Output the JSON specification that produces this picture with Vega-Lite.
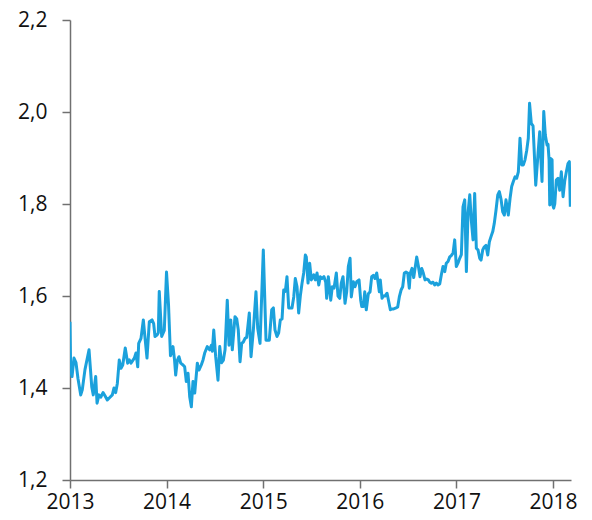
{
  "$schema": "https://vega.github.io/schema/vega-lite/v6.json",
  "autosize": {"type": "none"},
  "padding": {"left": 70, "top": 20, "right": 21, "bottom": 40},
  "width": 501,
  "height": 460,
  "config": {
    "view": {"stroke": null},
    "axis": {"grid": false, "domainColor": "#707070", "tickColor": "#707070", "domainWidth": 1.5, "tickWidth": 1.5, "tickSize": 8, "labelFont": "Open Sans", "labelFontSize": 21, "labelColor": "#111111", "title": null, "labelFlush": false, "labelOverlap": false}
  },
  "data": {"values": [
    {"t":2013.000,"v":1.544},{"t":2013.007,"v":1.44},{"t":2013.021,"v":1.425},{"t":2013.041,"v":1.465},{"t":2013.062,"v":1.455},{"t":2013.083,"v":1.42},{"t":2013.111,"v":1.385},{"t":2013.127,"v":1.396},{"t":2013.155,"v":1.44},{"t":2013.197,"v":1.483},{"t":2013.225,"v":1.403},{"t":2013.241,"v":1.385},{"t":2013.266,"v":1.425},{"t":2013.280,"v":1.367},{"t":2013.300,"v":1.385},{"t":2013.318,"v":1.38},{"t":2013.342,"v":1.39},{"t":2013.362,"v":1.383},{"t":2013.386,"v":1.374},{"t":2013.414,"v":1.38},{"t":2013.438,"v":1.385},{"t":2013.455,"v":1.40},{"t":2013.473,"v":1.39},{"t":2013.490,"v":1.41},{"t":2013.510,"v":1.461},{"t":2013.528,"v":1.443},{"t":2013.546,"v":1.45},{"t":2013.572,"v":1.487},{"t":2013.597,"v":1.454},{"t":2013.614,"v":1.461},{"t":2013.631,"v":1.454},{"t":2013.666,"v":1.465},{"t":2013.683,"v":1.476},{"t":2013.701,"v":1.446},{"t":2013.711,"v":1.497},{"t":2013.735,"v":1.508},{"t":2013.759,"v":1.548},{"t":2013.776,"v":1.51},{"t":2013.797,"v":1.465},{"t":2013.821,"v":1.544},{"t":2013.849,"v":1.548},{"t":2013.866,"v":1.54},{"t":2013.880,"v":1.512},{"t":2013.901,"v":1.515},{"t":2013.914,"v":1.52},{"t":2013.924,"v":1.61},{"t":2013.949,"v":1.512},{"t":2013.976,"v":1.525},{"t":2013.999,"v":1.652},{"t":2014.020,"v":1.58},{"t":2014.040,"v":1.47},{"t":2014.066,"v":1.49},{"t":2014.082,"v":1.461},{"t":2014.094,"v":1.428},{"t":2014.111,"v":1.46},{"t":2014.128,"v":1.468},{"t":2014.146,"v":1.454},{"t":2014.170,"v":1.45},{"t":2014.187,"v":1.446},{"t":2014.204,"v":1.414},{"t":2014.222,"v":1.432},{"t":2014.239,"v":1.381},{"t":2014.256,"v":1.359},{"t":2014.273,"v":1.414},{"t":2014.291,"v":1.389},{"t":2014.318,"v":1.454},{"t":2014.335,"v":1.439},{"t":2014.359,"v":1.45},{"t":2014.377,"v":1.461},{"t":2014.394,"v":1.476},{"t":2014.421,"v":1.49},{"t":2014.446,"v":1.483},{"t":2014.463,"v":1.493},{"t":2014.473,"v":1.48},{"t":2014.488,"v":1.526},{"t":2014.508,"v":1.468},{"t":2014.532,"v":1.417},{"t":2014.550,"v":1.49},{"t":2014.568,"v":1.455},{"t":2014.587,"v":1.46},{"t":2014.605,"v":1.483},{"t":2014.628,"v":1.591},{"t":2014.646,"v":1.493},{"t":2014.664,"v":1.548},{"t":2014.680,"v":1.483},{"t":2014.708,"v":1.555},{"t":2014.726,"v":1.55},{"t":2014.742,"v":1.526},{"t":2014.760,"v":1.457},{"t":2014.777,"v":1.497},{"t":2014.794,"v":1.50},{"t":2014.812,"v":1.508},{"t":2014.829,"v":1.51},{"t":2014.856,"v":1.563},{"t":2014.874,"v":1.468},{"t":2014.898,"v":1.526},{"t":2014.925,"v":1.609},{"t":2014.943,"v":1.53},{"t":2014.967,"v":1.497},{"t":2015.001,"v":1.70},{"t":2015.029,"v":1.504},{"t":2015.063,"v":1.504},{"t":2015.088,"v":1.57},{"t":2015.105,"v":1.574},{"t":2015.122,"v":1.526},{"t":2015.143,"v":1.512},{"t":2015.160,"v":1.52},{"t":2015.177,"v":1.548},{"t":2015.195,"v":1.55},{"t":2015.212,"v":1.613},{"t":2015.229,"v":1.61},{"t":2015.246,"v":1.642},{"t":2015.264,"v":1.574},{"t":2015.281,"v":1.574},{"t":2015.298,"v":1.574},{"t":2015.316,"v":1.598},{"t":2015.332,"v":1.638},{"t":2015.350,"v":1.62},{"t":2015.367,"v":1.563},{"t":2015.384,"v":1.60},{"t":2015.402,"v":1.628},{"t":2015.419,"v":1.65},{"t":2015.436,"v":1.689},{"t":2015.446,"v":1.685},{"t":2015.464,"v":1.628},{"t":2015.481,"v":1.671},{"t":2015.498,"v":1.635},{"t":2015.523,"v":1.646},{"t":2015.539,"v":1.635},{"t":2015.557,"v":1.65},{"t":2015.575,"v":1.624},{"t":2015.591,"v":1.642},{"t":2015.609,"v":1.638},{"t":2015.629,"v":1.642},{"t":2015.647,"v":1.63},{"t":2015.657,"v":1.595},{"t":2015.674,"v":1.642},{"t":2015.699,"v":1.591},{"t":2015.715,"v":1.62},{"t":2015.733,"v":1.617},{"t":2015.757,"v":1.65},{"t":2015.774,"v":1.60},{"t":2015.792,"v":1.595},{"t":2015.808,"v":1.628},{"t":2015.826,"v":1.642},{"t":2015.847,"v":1.584},{"t":2015.864,"v":1.609},{"t":2015.881,"v":1.664},{"t":2015.899,"v":1.682},{"t":2015.912,"v":1.598},{"t":2015.933,"v":1.631},{"t":2015.950,"v":1.62},{"t":2015.968,"v":1.631},{"t":2015.992,"v":1.635},{"t":2016.009,"v":1.591},{"t":2016.020,"v":1.577},{"t":2016.036,"v":1.577},{"t":2016.051,"v":1.609},{"t":2016.067,"v":1.57},{"t":2016.088,"v":1.605},{"t":2016.106,"v":1.609},{"t":2016.123,"v":1.642},{"t":2016.140,"v":1.645},{"t":2016.157,"v":1.638},{"t":2016.175,"v":1.65},{"t":2016.192,"v":1.625},{"t":2016.202,"v":1.609},{"t":2016.212,"v":1.635},{"t":2016.230,"v":1.595},{"t":2016.243,"v":1.60},{"t":2016.261,"v":1.60},{"t":2016.282,"v":1.606},{"t":2016.299,"v":1.588},{"t":2016.316,"v":1.57},{"t":2016.333,"v":1.572},{"t":2016.351,"v":1.572},{"t":2016.375,"v":1.574},{"t":2016.392,"v":1.576},{"t":2016.409,"v":1.598},{"t":2016.427,"v":1.613},{"t":2016.444,"v":1.62},{"t":2016.461,"v":1.65},{"t":2016.478,"v":1.652},{"t":2016.496,"v":1.65},{"t":2016.512,"v":1.617},{"t":2016.523,"v":1.65},{"t":2016.540,"v":1.66},{"t":2016.558,"v":1.64},{"t":2016.575,"v":1.665},{"t":2016.589,"v":1.685},{"t":2016.606,"v":1.665},{"t":2016.623,"v":1.642},{"t":2016.641,"v":1.66},{"t":2016.657,"v":1.65},{"t":2016.675,"v":1.635},{"t":2016.692,"v":1.637},{"t":2016.709,"v":1.635},{"t":2016.724,"v":1.63},{"t":2016.740,"v":1.628},{"t":2016.758,"v":1.63},{"t":2016.775,"v":1.624},{"t":2016.792,"v":1.628},{"t":2016.810,"v":1.624},{"t":2016.827,"v":1.626},{"t":2016.844,"v":1.646},{"t":2016.861,"v":1.664},{"t":2016.879,"v":1.653},{"t":2016.895,"v":1.671},{"t":2016.913,"v":1.675},{"t":2016.931,"v":1.685},{"t":2016.947,"v":1.688},{"t":2016.965,"v":1.693},{"t":2016.982,"v":1.722},{"t":2016.999,"v":1.664},{"t":2017.017,"v":1.672},{"t":2017.034,"v":1.682},{"t":2017.051,"v":1.69},{"t":2017.068,"v":1.794},{"t":2017.086,"v":1.809},{"t":2017.103,"v":1.653},{"t":2017.120,"v":1.78},{"t":2017.138,"v":1.82},{"t":2017.154,"v":1.765},{"t":2017.172,"v":1.722},{"t":2017.189,"v":1.823},{"t":2017.206,"v":1.704},{"t":2017.224,"v":1.70},{"t":2017.241,"v":1.682},{"t":2017.255,"v":1.678},{"t":2017.272,"v":1.70},{"t":2017.289,"v":1.707},{"t":2017.306,"v":1.71},{"t":2017.324,"v":1.689},{"t":2017.341,"v":1.718},{"t":2017.358,"v":1.729},{"t":2017.376,"v":1.74},{"t":2017.392,"v":1.758},{"t":2017.410,"v":1.787},{"t":2017.428,"v":1.82},{"t":2017.444,"v":1.827},{"t":2017.462,"v":1.81},{"t":2017.479,"v":1.783},{"t":2017.496,"v":1.776},{"t":2017.513,"v":1.809},{"t":2017.537,"v":1.776},{"t":2017.555,"v":1.812},{"t":2017.572,"v":1.838},{"t":2017.589,"v":1.849},{"t":2017.607,"v":1.859},{"t":2017.624,"v":1.856},{"t":2017.641,"v":1.87},{"t":2017.658,"v":1.943},{"t":2017.676,"v":1.885},{"t":2017.693,"v":1.885},{"t":2017.710,"v":1.896},{"t":2017.728,"v":1.917},{"t":2017.744,"v":1.943},{"t":2017.757,"v":2.019},{"t":2017.775,"v":1.975},{"t":2017.793,"v":1.97},{"t":2017.803,"v":1.925},{"t":2017.821,"v":1.841},{"t":2017.845,"v":1.91},{"t":2017.862,"v":1.957},{"t":2017.873,"v":1.903},{"t":2017.886,"v":1.849},{"t":2017.904,"v":2.001},{"t":2017.920,"v":1.95},{"t":2017.938,"v":1.928},{"t":2017.948,"v":1.93},{"t":2017.959,"v":1.896},{"t":2017.966,"v":1.798},{"t":2017.976,"v":1.899},{"t":2017.990,"v":1.896},{"t":2017.997,"v":1.798},{"t":2018.007,"v":1.791},{"t":2018.018,"v":1.80},{"t":2018.034,"v":1.852},{"t":2018.052,"v":1.856},{"t":2018.069,"v":1.83},{"t":2018.086,"v":1.87},{"t":2018.104,"v":1.816},{"t":2018.121,"v":1.85},{"t":2018.138,"v":1.87},{"t":2018.155,"v":1.888},{"t":2018.169,"v":1.892},{"t":2018.179,"v":1.794}
  ]},
  "mark": {"type": "line", "color": "#1ba1dc", "strokeWidth": 3, "strokeJoin": "round", "clip": true},
  "encoding": {
    "x": {"field": "t", "type": "quantitative", "scale": {"domain": [2013, 2018.186], "nice": false, "zero": false},
      "axis": {"values": [2013, 2014, 2015, 2016, 2017, 2018], "format": "d", "labelPadding": 3}},
    "y": {"field": "v", "type": "quantitative", "scale": {"domain": [1.2, 2.2], "nice": false, "zero": false},
      "axis": {"values": [1.2, 1.4, 1.6, 1.8, 2.0, 2.2], "labelExpr": "replace(format(datum.value, '.1f'), '.', ',')", "labelPadding": 15}}
  }
}
